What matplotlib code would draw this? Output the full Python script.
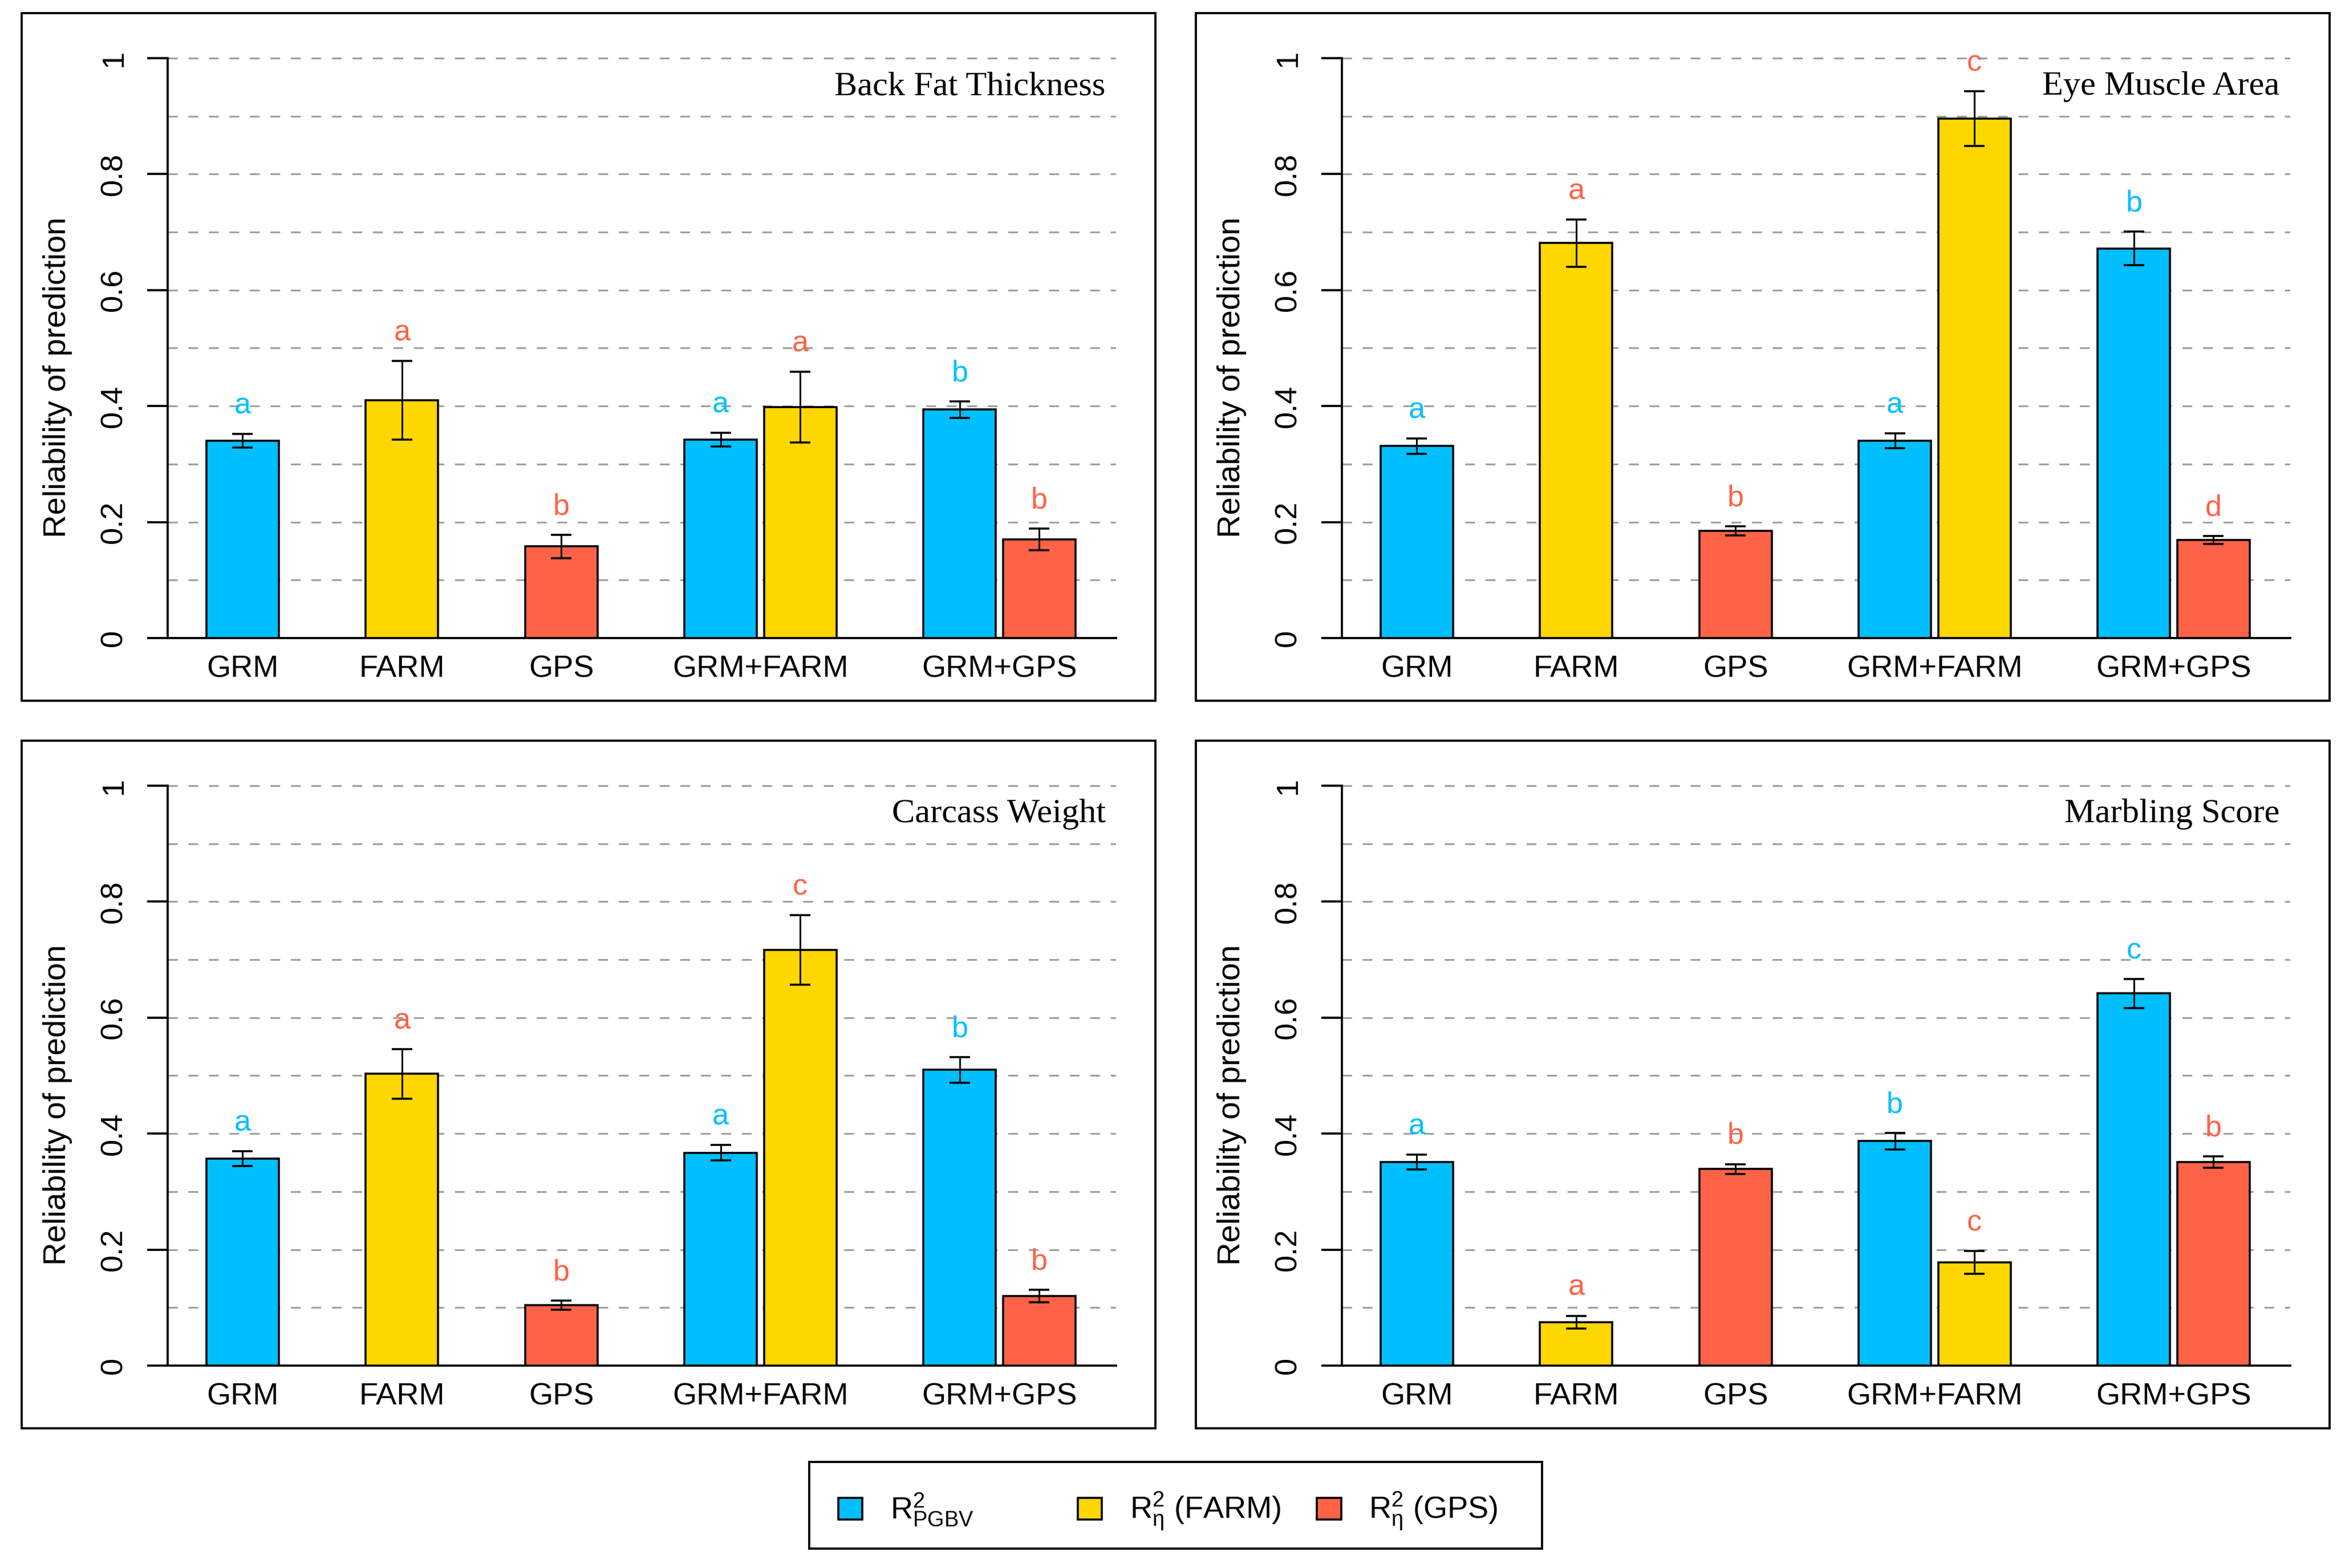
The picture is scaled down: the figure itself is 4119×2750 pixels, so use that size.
import numpy as np
import matplotlib.pyplot as plt
import matplotlib.transforms as mtransforms
from matplotlib.patches import Rectangle

plt.rcParams['font.family'] = ['Liberation Sans', 'DejaVu Sans']
plt.rcParams['mathtext.fontset'] = 'custom'
plt.rcParams['mathtext.rm'] = 'Liberation Sans'
plt.rcParams['mathtext.it'] = 'Liberation Sans:italic'

# ---- data ----
traits = ['Back Fat Thickness', 'Eye Muscle Area', 'Carcass Weight', 'Marbling Score']
models = ['GRM', 'FARM', 'GPS', 'GRM+FARM', 'GRM+GPS']
bar_model = [0, 1, 2, 3, 3, 4, 4]
bar_kind = ['pgbv', 'farm', 'gps', 'pgbv', 'farm', 'pgbv', 'gps']

bft_mean = [0.340, 0.410, 0.158, 0.342, 0.398, 0.394, 0.170]
bft_err = [0.012, 0.068, 0.020, 0.012, 0.061, 0.014, 0.019]
bft_letters = ['a', 'a', 'b', 'a', 'a', 'b', 'b']

ema_mean = [0.331, 0.681, 0.185, 0.340, 0.896, 0.672, 0.169]
ema_err = [0.013, 0.041, 0.008, 0.013, 0.047, 0.029, 0.007]
ema_letters = ['a', 'a', 'b', 'a', 'c', 'b', 'd']

cw_mean = [0.357, 0.503, 0.104, 0.367, 0.717, 0.510, 0.120]
cw_err = [0.013, 0.043, 0.008, 0.0135, 0.060, 0.022, 0.011]
cw_letters = ['a', 'a', 'b', 'a', 'c', 'b', 'b']

ms_mean = [0.351, 0.075, 0.339, 0.387, 0.178, 0.642, 0.351]
ms_err = [0.013, 0.011, 0.0085, 0.014, 0.020, 0.025, 0.010]
ms_letters = ['a', 'a', 'b', 'b', 'c', 'c', 'b']

means = [bft_mean, ema_mean, cw_mean, ms_mean]
errs = [bft_err, ema_err, cw_err, ms_err]
letters = [bft_letters, ema_letters, cw_letters, ms_letters]

kinds = ['pgbv', 'farm', 'gps']
bar_col = {'pgbv': '#00BFFF', 'farm': '#FFD700', 'gps': '#FF6347'}
let_col = {'pgbv': '#00BFFF', 'farm': '#FF6347', 'gps': '#FF6347'}
legend_labels = [r'$\mathregular{R^2_{PGBV}}$',
                 r'$\mathregular{R^2_{\eta}}$ (FARM)',
                 r'$\mathregular{R^2_{\eta}}$ (GPS)']

# ---- bar layout: width 1, small gap inside a model, bigger gap between models ----
inner, outer = 0.1, 1.2
lefts = []
cursor = 0.0
for m in range(len(models)):
    n = bar_model.count(m)
    for k in range(n):
        lefts.append(cursor + k * (1 + inner))
    cursor += n + (n - 1) * inner + outer
centers = np.array(lefts) + 0.5
group_x = [centers[np.array(bar_model) == m].mean() for m in range(len(models))]

W, H = 4119, 2750
fig = plt.figure(figsize=(W / 300, H / 300), dpi=300)

ax_left = [294, 2353]
ax_y0 = [1119, 2395]
ax_w = 1663
unit = 1017

for i in range(4):
    r, c = divmod(i, 2)
    ax = fig.add_axes([ax_left[c] / W, (H - ax_y0[r]) / H, ax_w / W, 1.04 * unit / H])

    # panel frame
    fig.patches.append(Rectangle(((ax_left[c] - 256) / W, (H - ax_y0[r] - 110) / H),
                                 1988 / W, 1206 / H, transform=fig.transFigure,
                                 fill=False, ec='black', lw=0.9))

    cols = [bar_col[k] for k in bar_kind]
    ax.bar(centers, means[i], width=1.0, color=cols, edgecolor='black', lw=0.85, zorder=3)
    ax.errorbar(centers, means[i], yerr=errs[i], fmt='none', ecolor='black',
                elinewidth=0.7, capsize=4.4, capthick=0.85, zorder=4)
    for x, v, e, l, k in zip(centers, means[i], errs[i], letters[i], bar_kind):
        ax.text(x, v + e + 0.035, l, color=let_col[k], ha='center', va='baseline',
                fontsize=12.5, zorder=5)

    ax.set_xlim(-0.535, 12.56)
    ax.set_ylim(0, 1.04)
    ax.set_yticks(np.arange(0, 1.01, 0.2))
    ax.set_yticks(np.arange(0.1, 1.0, 0.2), minor=True)
    ax.set_yticklabels(['0', '0.2', '0.4', '0.6', '0.8', '1'])
    ax.grid(axis='y', which='both', color='#A0A0A0', lw=0.75, ls=(0, (5.5, 6)), zorder=0)
    ax.set_axisbelow(True)
    ax.tick_params(axis='y', which='major', length=8.6, width=0.9, pad=8, labelsize=13)
    ax.tick_params(axis='y', which='minor', length=0)
    plt.setp(ax.get_yticklabels(), rotation=90, va='center')
    ax.set_xticks(group_x)
    ax.set_xticklabels(models)
    ax.tick_params(axis='x', length=0, pad=7, labelsize=13)

    for s in ['top', 'right']:
        ax.spines[s].set_visible(False)
    ax.spines['left'].set_bounds(0, 1)
    ax.spines['left'].set_linewidth(0.9)
    ax.spines['bottom'].set_linewidth(0.9)

    ax.set_ylabel('Reliability of prediction', fontsize=13.5)
    ax.yaxis.set_label_coords(-0.1004, 0.432)

    # trait name: x in axes fraction, y in data units
    trans = mtransforms.blended_transform_factory(ax.transAxes, ax.transData)
    ax.text(0.989, 0.937, traits[i], transform=trans, ha='right', va='baseline',
            fontsize=14.5, family=['Liberation Serif', 'DejaVu Serif'])

# ---- legend ----
lg = fig.add_axes([1419 / W, 34 / H, 1285 / W, 152 / H])
lg.set_xlim(0, 1)
lg.set_ylim(0, 1)
lg.set_xticks([])
lg.set_yticks([])
for s in lg.spines.values():
    s.set_linewidth(0.9)
for j, (k, lab) in enumerate(zip(kinds, legend_labels)):
    x0 = 0.0397 + j * 0.3265
    lg.add_patch(Rectangle((x0, 0.336), 0.033, 0.25, fc=bar_col[k], ec='black', lw=0.85))
    lg.text(x0 + 0.071, 0.342, lab, ha='left', va='baseline', fontsize=13)

fig.savefig('out.png', dpi=300)
